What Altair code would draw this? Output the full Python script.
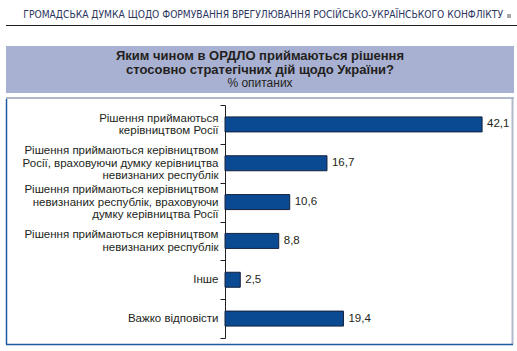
import altair as alt
import pandas as pd

categories = [
    "Рішення приймаються|керівництвом Росії",
    "Рішення приймаються керівництвом|Росії, враховуючи думку керівництва|невизнаних республік",
    "Рішення приймаються керівництвом|невизнаних республік, враховуючи|думку керівництва Росії",
    "Рішення приймаються керівництвом|невизнаних республік",
    "Інше",
    "Важко відповісти",
]
values = [42.1, 16.7, 10.6, 8.8, 2.5, 19.4]
value_labels = ["42,1", "16,7", "10,6", "8,8", "2,5", "19,4"]

header = "ГРОМАДСЬКА ДУМКА ЩОДО ФОРМУВАННЯ ВРЕГУЛЮВАННЯ РОСІЙСЬКО-УКРАЇНСЬКОГО КОНФЛІКТУ"
title_lines = ["Яким чином в ОРДЛО приймаються рішення", "стосовно стратегічних дій щодо України?"]
subtitle = "% опитаних"

df = pd.DataFrame({"cat": categories, "value": values, "label": value_labels})
one = pd.DataFrame({"a": [0]})

FONT = "Liberation Sans"
TXT = "#231f20"
BAR = "#0a4a93"
LH = 12.5

W, H = 287, 233
OX, OY = 225, 105

nlines = "length(split(datum.value, '|'))"
y_enc = alt.Y(
    "cat:N",
    sort=categories,
    title=None,
    scale=alt.Scale(paddingInner=0, paddingOuter=0),
    axis=alt.Axis(
        labelExpr="split(datum.label, '|')",
        labelFont=FONT,
        labelFontSize=11.5,
        labelColor=TXT,
        labelLineHeight=LH,
        labelLimit=260,
        labelPadding=2,
        labelOffset={
            "condition": [
                {"test": f"{nlines} == 3", "value": -LH},
                {"test": f"{nlines} == 2", "value": -LH / 2},
            ],
            "value": 0,
        },
        tickBand="extent",
        tickSize=5,
        tickColor=TXT,
        domainColor=TXT,
        domainWidth=1,
        tickWidth=1,
        grid=False,
    ),
)
x_enc = alt.X("value:Q", scale=alt.Scale(domain=[0, 47], nice=False), axis=None)

bars = alt.Chart(df).mark_bar(height=15, color=BAR, stroke="#14213d", strokeWidth=1).encode(
    x=x_enc, y=y_enc
)
labels = alt.Chart(df).mark_text(
    align="left", baseline="middle", dx=5, font=FONT, fontSize=11.5, color=TXT
).encode(x=x_enc, y=alt.Y("cat:N", sort=categories), text="label:N")

def rect(x1, x2, y1, y2, color):
    return alt.Chart(one).mark_rect(color=color).encode(
        x=alt.value(x1 - OX), x2=alt.value(x2 - OX), y=alt.value(y1 - OY), y2=alt.value(y2 - OY)
    )

def rule(x1, x2, y1, y2, color, w):
    return alt.Chart(one).mark_rule(color=color, strokeWidth=w).encode(
        x=alt.value(x1 - OX), x2=alt.value(x2 - OX), y=alt.value(y1 - OY), y2=alt.value(y2 - OY)
    )

def text(t, x, y, size, bold=False, align="center", font=FONT, color=TXT):
    return alt.Chart(one).mark_text(
        text=t, font=font, fontSize=size, fontWeight="bold" if bold else "normal",
        align=align, baseline="middle", color=color
    ).encode(x=alt.value(x - OX), y=alt.value(y - OY))

deco = [
    text(header, 503, 15, 10.2, align="right",
         font="DejaVu Sans Condensed, Liberation Sans", color="#2b3560"),
    rect(507, 511, 14, 18, "#a8a8a8"),
    rule(6, 517, 25.5, 25.5, "#231f20", 1.2),
    rect(6, 514, 46, 93, "#a8b1d2"),
    text(title_lines[0], 260, 56, 13, bold=True),
    text(title_lines[1], 260, 70, 13, bold=True),
    text(subtitle, 260, 83, 12),
    rule(6, 514, 98, 98, "#b0b8cc", 2),
    rule(512.5, 512.5, 98, 344.5, "#b0b8cc", 2),
    rule(6.5, 6.5, 99, 344.5, "#1d5aa0", 1.5),
    rule(6, 513, 344.5, 344.5, "#1d5aa0", 1.5),
]

chart = alt.layer(*deco, bars, labels).properties(
    width=W,
    height=H,
    autosize=alt.AutoSizeParams(type="none"),
    padding={"left": OX, "top": OY, "right": 517 - OX - W, "bottom": 351 - OY - H},
    background="white",
).configure_view(stroke=None)

chart.save("out.html", embed_options={"renderer": "svg", "actions": False})
